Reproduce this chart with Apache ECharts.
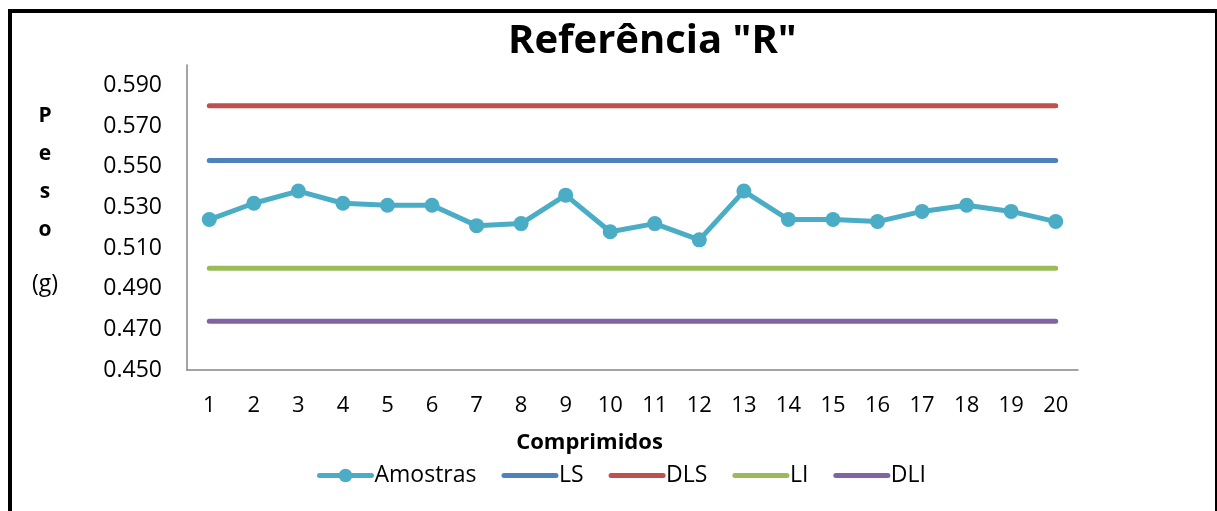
<!DOCTYPE html>
<html>
<head>
<meta charset="utf-8">
<script src="https://cdn.jsdelivr.net/npm/echarts@6/dist/echarts.min.js"></script>
<style>
  html, body { margin: 0; padding: 0; background: #fff; }
  #chart { width: 1217px; height: 511px; }
</style>
</head>
<body>
<div id="chart"></div>
<script>
// dados
const comprimidos = ['1', '2', '3', '4', '5', '6', '7', '8', '9', '10',
  '11', '12', '13', '14', '15', '16', '17', '18', '19', '20']
const amostras = [0.524, 0.532, 0.538, 0.532, 0.531, 0.531, 0.521, 0.522, 0.536, 0.518,
  0.522, 0.514, 0.538, 0.524, 0.524, 0.523, 0.528, 0.531, 0.528, 0.523]
const ls = [0.553, 0.553, 0.553, 0.553, 0.553, 0.553, 0.553, 0.553, 0.553, 0.553,
  0.553, 0.553, 0.553, 0.553, 0.553, 0.553, 0.553, 0.553, 0.553, 0.553]
const dls = [0.580, 0.580, 0.580, 0.580, 0.580, 0.580, 0.580, 0.580, 0.580, 0.580,
  0.580, 0.580, 0.580, 0.580, 0.580, 0.580, 0.580, 0.580, 0.580, 0.580]
const li = [0.500, 0.500, 0.500, 0.500, 0.500, 0.500, 0.500, 0.500, 0.500, 0.500,
  0.500, 0.500, 0.500, 0.500, 0.500, 0.500, 0.500, 0.500, 0.500, 0.500]
const dli = [0.474, 0.474, 0.474, 0.474, 0.474, 0.474, 0.474, 0.474, 0.474, 0.474,
  0.474, 0.474, 0.474, 0.474, 0.474, 0.474, 0.474, 0.474, 0.474, 0.474]
const yTicks = [0.450, 0.470, 0.490, 0.510, 0.530, 0.550, 0.570, 0.590]

const FONT = '"Open Sans", "Liberation Sans", sans-serif'

const chart = echarts.init(document.getElementById('chart'))

const flatLine = (name, data, color) => ({
  name,
  type: 'line',
  data,
  symbol: 'none',
  itemStyle: { color },
  lineStyle: { width: 5, color, cap: 'round' },
  z: 2
})

// linhas sem marcador na legenda
const noDot = name => ({ name, itemStyle: { opacity: 0 } })

chart.setOption({
  animation: false,
  backgroundColor: '#fff',
  title: {
    text: 'Referência "R"',
    left: 503,
    top: 17,
    textStyle: { fontFamily: FONT, fontWeight: 'bold', fontSize: 40, color: '#000' }
  },
  grid: { left: 187, right: 139, top: 65, bottom: 141 },
  legend: {
    left: 312,
    top: 459,
    itemWidth: 52,
    itemHeight: 17,
    itemGap: 25,
    lineStyle: { width: 5, cap: 'round' },
    textStyle: { fontFamily: FONT, fontSize: 23, color: '#000', padding: [0, 0, 0, -2] },
    data: ['Amostras', noDot('LS'), noDot('DLS'), noDot('LI'), noDot('DLI')]
  },
  xAxis: {
    type: 'category',
    data: comprimidos,
    boundaryGap: true,
    name: 'Comprimidos',
    nameLocation: 'middle',
    nameGap: 62,
    nameTextStyle: {
      fontFamily: FONT, fontWeight: 'bold', fontSize: 22, color: '#000',
      padding: [0, 86, 0, 0]
    },
    axisLine: { lineStyle: { color: '#868686', width: 1.5 } },
    axisTick: { show: false },
    axisLabel: { fontFamily: FONT, fontSize: 22, color: '#000', margin: 25 },
    splitLine: { show: false }
  },
  yAxis: {
    type: 'value',
    min: 0.45,
    max: 0.60,
    axisLine: { show: true, lineStyle: { color: '#868686', width: 1.5 } },
    axisTick: { show: false },
    axisLabel: {
      customValues: yTicks,
      fontFamily: FONT, fontSize: 23, color: '#000', margin: 25,
      formatter: v => v.toFixed(3)
    },
    splitLine: { show: false }
  },
  graphic: [
    {
      type: 'rect',
      shape: { x: 10, y: 11, width: 1207, height: 600 },
      style: { fill: 'none', stroke: '#000', lineWidth: 4 },
      silent: true
    },
    {
      type: 'text',
      left: 28,
      top: 106,
      style: {
        text: '{b|P}\n{b|e}\n{b|s}\n{b|o}\n{n|(g)}',
        align: 'center',
        rich: {
          b: { fontFamily: FONT, fontWeight: 'bold', fontSize: 21, lineHeight: 38, width: 34, align: 'center', fill: '#000' },
          n: { fontFamily: FONT, fontSize: 23, lineHeight: 70, width: 34, align: 'center', fill: '#000' }
        }
      }
    }
  ],
  series: [
    {
      name: 'Amostras',
      type: 'line',
      data: amostras,
      symbol: 'circle',
      symbolSize: 15,
      itemStyle: { color: '#4BACC6' },
      lineStyle: { width: 5, color: '#4BACC6' },
      z: 3
    },
    flatLine('LS', ls, '#4F81BD'),
    flatLine('DLS', dls, '#C0504D'),
    flatLine('LI', li, '#9BBB59'),
    flatLine('DLI', dli, '#8064A2')
  ]
})
</script>
</body>
</html>
